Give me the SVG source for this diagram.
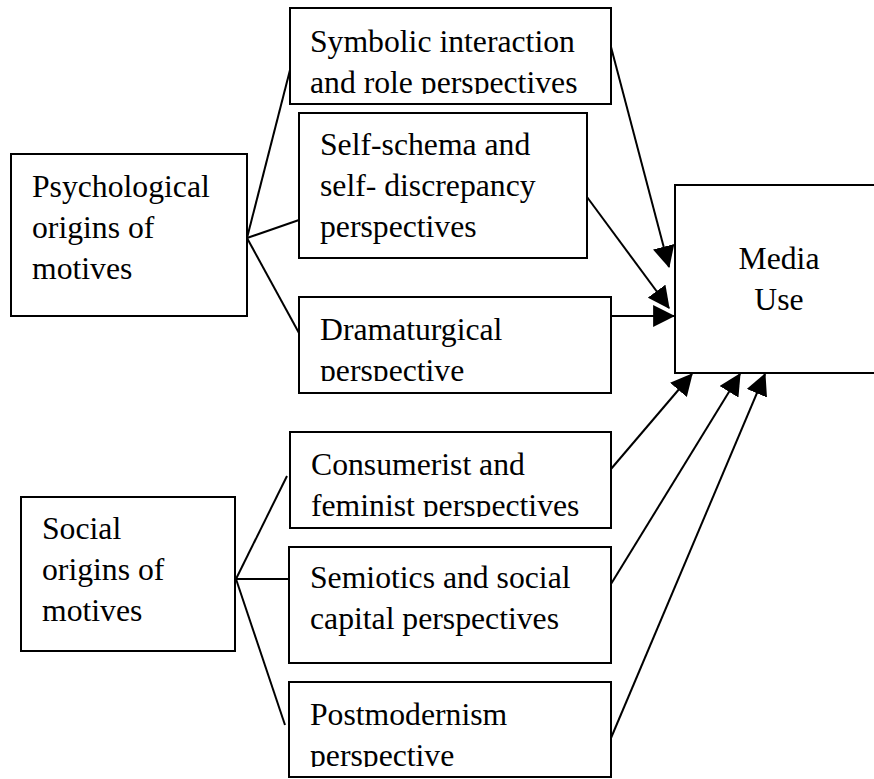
<svg xmlns="http://www.w3.org/2000/svg" width="874" height="779" viewBox="0 0 874 779">
<style>
.box{fill:#fff;stroke:#000;stroke-width:2}
.t{font-family:'Liberation Serif','DejaVu Serif',serif;font-size:31.7px;fill:#000}
.c{fill:none;stroke:#000;stroke-width:2}
.a{fill:none;stroke:#000;stroke-width:2;marker-end:url(#arr)}
</style>
<defs>
<marker id="arr" markerUnits="userSpaceOnUse" markerWidth="22" markerHeight="22" viewBox="0 0 20 20" refX="19" refY="10" orient="auto">
<path d="M0,0 L20,10 L0,20 Z" fill="#000"/>
</marker>
<clipPath id="cSym"><rect x="290" y="8" width="321" height="86"/></clipPath>
<clipPath id="cDram"><rect x="299" y="297" width="312" height="84"/></clipPath>
<clipPath id="cCons"><rect x="290" y="432" width="321" height="85"/></clipPath>
<clipPath id="cPost"><rect x="289" y="682" width="322" height="85"/></clipPath>
</defs>
<g id="connectors">
<line class="c" x1="247" y1="238" x2="290" y2="70"/>
<line class="c" x1="247" y1="238" x2="299" y2="220"/>
<line class="c" x1="247" y1="238" x2="299" y2="333"/>
<line class="c" x1="236" y1="579" x2="287" y2="476"/>
<line class="c" x1="236" y1="579" x2="289" y2="579"/>
<line class="c" x1="236" y1="579" x2="285" y2="725"/>
<line class="a" x1="611" y1="47" x2="669" y2="267"/>
<line class="a" x1="587" y1="197" x2="669" y2="308"/>
<line class="a" x1="611" y1="316" x2="674" y2="316"/>
<line class="a" x1="611" y1="469" x2="692" y2="374"/>
<line class="a" x1="611" y1="584" x2="740" y2="374"/>
<line class="a" x1="611" y1="738" x2="765" y2="374"/>
</g>
<g font-family="Liberation Serif, serif">
<g id="psych">
<rect class="box" x="11" y="154" width="236" height="162"/>
<text class="t" x="32" y="197">Psychological</text>
<text class="t" x="32" y="238">origins of</text>
<text class="t" x="32" y="279">motives</text>
</g>
<g id="social">
<rect class="box" x="21" y="497" width="214" height="154"/>
<text class="t" x="42" y="539">Social</text>
<text class="t" x="42" y="580">origins of</text>
<text class="t" x="42" y="621">motives</text>
</g>
<g id="symbolic">
<rect class="box" x="290" y="8" width="321" height="96"/>
<g clip-path="url(#cSym)">
<text class="t" x="310" y="52">Symbolic interaction</text>
<text class="t" x="310" y="93">and role perspectives</text>
</g>
</g>
<g id="selfschema">
<rect class="box" x="299" y="113" width="288" height="145"/>
<text class="t" x="320" y="155">Self-schema and</text>
<text class="t" x="320" y="196">self- discrepancy</text>
<text class="t" x="320" y="237">perspectives</text>
</g>
<g id="dramaturgical">
<rect class="box" x="299" y="297" width="312" height="96"/>
<g clip-path="url(#cDram)">
<text class="t" x="320" y="340">Dramaturgical</text>
<text class="t" x="320" y="381">perspective</text>
</g>
</g>
<g id="consumerist">
<rect class="box" x="290" y="432" width="321" height="96"/>
<g clip-path="url(#cCons)">
<text class="t" x="311" y="475">Consumerist and</text>
<text class="t" x="311" y="516">feminist perspectives</text>
</g>
</g>
<g id="semiotics">
<rect class="box" x="289" y="547" width="322" height="116"/>
<text class="t" x="310" y="588">Semiotics and social</text>
<text class="t" x="310" y="629">capital perspectives</text>
</g>
<g id="postmodernism">
<rect class="box" x="289" y="682" width="322" height="95"/>
<g clip-path="url(#cPost)">
<text class="t" x="310" y="725">Postmodernism</text>
<text class="t" x="310" y="766">perspective</text>
</g>
</g>
<g id="media">
<rect class="box" x="675" y="185" width="205" height="188"/>
<text class="t" x="779" y="269" text-anchor="middle">Media</text>
<text class="t" x="779" y="310" text-anchor="middle">Use</text>
</g>
</g>
</svg>
